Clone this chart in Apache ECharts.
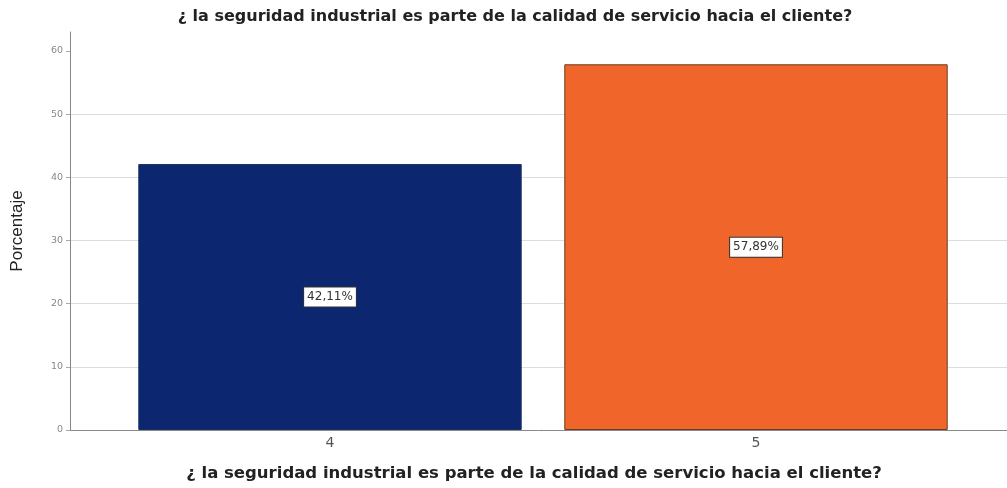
<!DOCTYPE html>
<html>
<head>
<meta charset="utf-8">
<script src="https://cdn.jsdelivr.net/npm/echarts@6/dist/echarts.min.js"></script>
<style>
  html, body { margin: 0; padding: 0; background: #fff; }
  #chart { width: 1007px; height: 488px; }
</style>
</head>
<body>
<div id="chart"></div>
<script>
// Respuestas a la pregunta y su porcentaje
const categorias = ['4', '5'];
const porcentajes = [42.11, 57.89];
const coloresBarras = ['#0c2670', '#f0652a'];
const bordesBarras = ['#1d2f63', '#6a3a24'];
const ticksY = [0, 10, 20, 30, 40, 50, 60];

const pregunta = '¿ la seguridad industrial es parte de la calidad de servicio hacia el cliente?';

const chart = echarts.init(document.getElementById('chart'), null, { renderer: 'canvas' });

const option = {
  backgroundColor: '#ffffff',
  animation: false,
  title: [
    {
      text: pregunta,
      left: 510, top: 4, textAlign: 'center',
      textStyle: { fontFamily: 'DejaVu Sans, sans-serif', fontSize: 16, fontWeight: 'bold', color: '#222' }
    },
    {
      text: pregunta,
      left: 529, top: 460, textAlign: 'center',
      textStyle: { fontFamily: 'DejaVu Sans, sans-serif', fontSize: 16.5, fontWeight: 'bold', color: '#222' }
    }
  ],
  grid: [
    // marco con eje Y y líneas de referencia
    { left: 70, right: 0, top: 32, bottom: 58, containLabel: false },
    // zona de las barras
    { left: 117, right: 38, top: 32, bottom: 58, containLabel: false }
  ],
  xAxis: [
    {
      type: 'value', gridIndex: 0, min: 0, max: 1,
      axisLine: { show: true, lineStyle: { color: '#888', width: 1 } },
      axisTick: { show: false }, axisLabel: { show: false }, splitLine: { show: false }
    },
    {
      type: 'category', gridIndex: 1, data: categorias,
      axisLine: { show: false }, axisTick: { show: false },
      axisLabel: { margin: 6, fontFamily: 'DejaVu Sans, sans-serif', fontSize: 14, color: '#555' }
    }
  ],
  yAxis: [
    {
      type: 'value', gridIndex: 0, min: 0, max: 63, interval: 10,
      name: 'Porcentaje', nameLocation: 'middle', nameGap: 44,
      nameTextStyle: { fontFamily: 'Liberation Sans, Arial, sans-serif', fontSize: 17, color: '#222' },
      axisLine: { show: true, lineStyle: { color: '#888', width: 1 } },
      axisTick: { show: true, length: 4, customValues: ticksY, lineStyle: { color: '#aaa' } },
      axisLabel: { customValues: ticksY, margin: 7, fontFamily: 'DejaVu Sans, sans-serif', fontSize: 9.5, color: '#888' },
      splitLine: { show: true, showMaxLine: false, showMinLine: false, lineStyle: { color: '#dcdcdc', width: 1 } }
    },
    {
      type: 'value', gridIndex: 1, min: 0, max: 63, show: false,
      splitLine: { show: false }
    }
  ],
  series: [
    {
      type: 'bar',
      xAxisIndex: 1, yAxisIndex: 1,
      barCategoryGap: '10%',
      data: porcentajes.map((v, i) => ({
        value: v,
        itemStyle: { color: coloresBarras[i], borderColor: bordesBarras[i], borderWidth: 1 }
      })),
      label: {
        show: true, position: 'inside',
        formatter: p => p.value.toFixed(2).replace('.', ',') + '%',
        fontFamily: 'DejaVu Sans, sans-serif', fontSize: 12, color: '#333',
        backgroundColor: '#ffffff', borderColor: '#333', borderWidth: 1,
        padding: [4, 3, 3, 3]
      }
    }
  ]
};

chart.setOption(option);
</script>
</body>
</html>
